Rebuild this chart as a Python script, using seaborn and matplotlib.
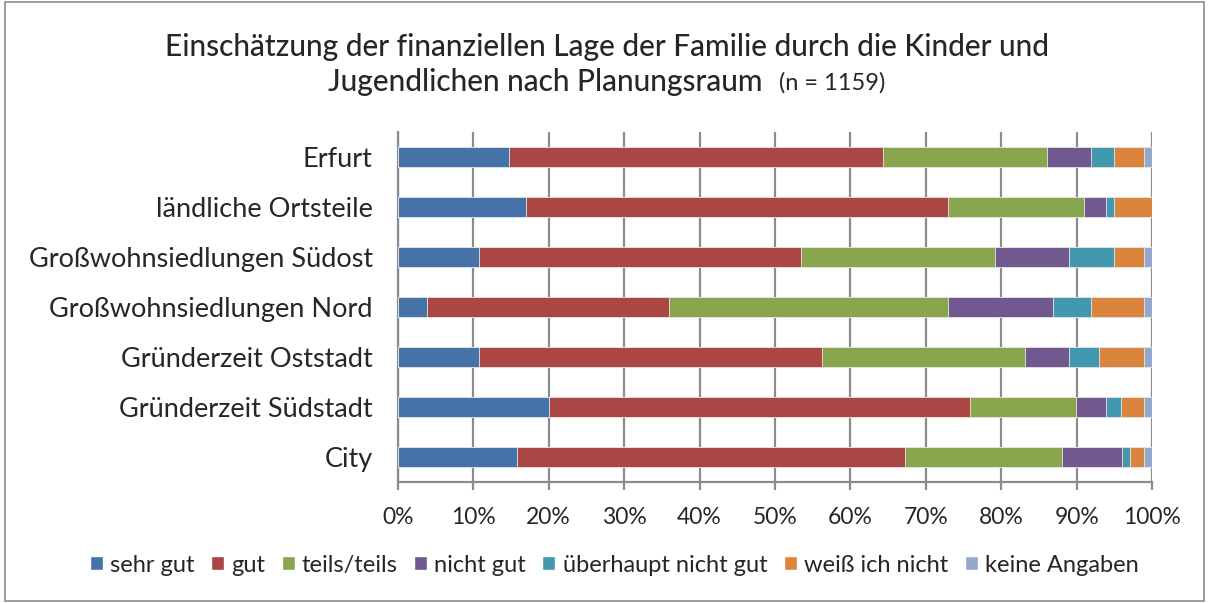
import numpy as np
import pandas as pd
import seaborn as sns
import matplotlib.pyplot as plt
from matplotlib.patches import Patch, Rectangle

categories = ["Erfurt", "ländliche Ortsteile", "Großwohnsiedlungen Südost",
              "Großwohnsiedlungen Nord", "Gründerzeit Oststadt",
              "Gründerzeit Südstadt", "City"]
answers = ["sehr gut", "gut", "teils/teils", "nicht gut",
           "überhaupt nicht gut", "weiß ich nicht", "keine Angaben"]
colors = ["#4572A7", "#AA4643", "#89A54E", "#71588F", "#4198AF", "#DB843D", "#93A9CF"]

sehr_gut = [14.8, 17.0, 10.8, 3.9, 10.8, 20.0, 15.8]
gut = [49.5, 55.9, 42.6, 32.0, 45.5, 55.9, 51.4]
teils = [21.8, 18.1, 25.8, 37.1, 26.8, 14.0, 20.8]
nicht_gut = [5.8, 2.9, 9.8, 13.9, 5.9, 4.0, 8.0]
ueberhaupt = [3.1, 1.0, 6.0, 5.0, 4.0, 2.0, 1.0]
weiss_nicht = [3.9, 5.1, 3.9, 7.0, 5.9, 3.0, 1.9]
keine = [1.1, 0.0, 1.1, 1.1, 1.1, 1.1, 1.1]

df = pd.DataFrame({"Planungsraum": categories, "sehr gut": sehr_gut, "gut": gut,
                   "teils/teils": teils, "nicht gut": nicht_gut,
                   "überhaupt nicht gut": ueberhaupt, "weiß ich nicht": weiss_nicht,
                   "keine Angaben": keine})
cum = df[answers].cumsum(axis=1)
cum = cum.div(cum["keine Angaben"], axis=0) * 100
cum["Planungsraum"] = df["Planungsraum"]

sns.set_style("white")
plt.rcParams["font.family"] = ["Lato", "DejaVu Sans"]

fig = plt.figure(figsize=(12.09, 6.03), dpi=100)
ax = fig.add_axes([0.329, 0.2007, 0.624, 0.580])

# draw cumulative bars from the last answer to the first so they stack
for ans, col in reversed(list(zip(answers, colors))):
    sns.barplot(data=cum, x=ans, y="Planungsraum", order=categories, color=col,
                width=0.4, orient="h", saturation=1, edgecolor="#e8e8e8",
                linewidth=0.6, ax=ax, zorder=3)

ax.set_xlim(0, 100)
ax.set_ylim(6.5, -0.5)
ax.set_xticks(np.arange(0, 101, 10))
ax.set_xticklabels([f"{v}%" for v in range(0, 101, 10)], fontsize=16.5)
ax.set_xlabel("")
ax.set_ylabel("")
ax.tick_params(axis="y", labelsize=19.5, length=0, pad=18)
ax.set_yticks(np.arange(-0.5, 7, 1), minor=True)
ax.tick_params(axis="y", which="minor", length=6, width=1.6, color="#8c8c8c")
ax.tick_params(axis="x", length=6, width=1.6, color="#8c8c8c", direction="out",
               bottom=True, pad=12)
ax.grid(axis="x", color="#8c8c8c", linewidth=1.6, zorder=0)
ax.set_axisbelow(True)
for s in ["top", "right"]:
    ax.spines[s].set_visible(False)
for s in ["left", "bottom"]:
    ax.spines[s].set_color("#8c8c8c")
    ax.spines[s].set_linewidth(1.6)

fig.text(0.502, 0.922, "Einschätzung der finanziellen Lage der Familie durch die Kinder und",
         ha="center", va="center", fontsize=21.5, weight="medium")
fig.text(0.631, 0.864, "Jugendlichen nach Planungsraum", ha="right", va="center",
         fontsize=21.5, weight="medium")
fig.text(0.644, 0.862, "(n = 1159)", ha="left", va="center", fontsize=17)

handles = [Patch(facecolor=c, label=a) for a, c in zip(answers, colors)]
fig.legend(handles=handles, loc="center", bbox_to_anchor=(0.508, 0.063), ncol=7,
           frameon=False, fontsize=17, handlelength=0.55, handleheight=0.55,
           handletextpad=0.3, columnspacing=0.7)

fig.patches.append(Rectangle((0.004, 0.004), 0.992, 0.992, transform=fig.transFigure,
                             fill=False, edgecolor="#8c8c8c", linewidth=1.2))

fig.savefig("out.png", dpi=100)
